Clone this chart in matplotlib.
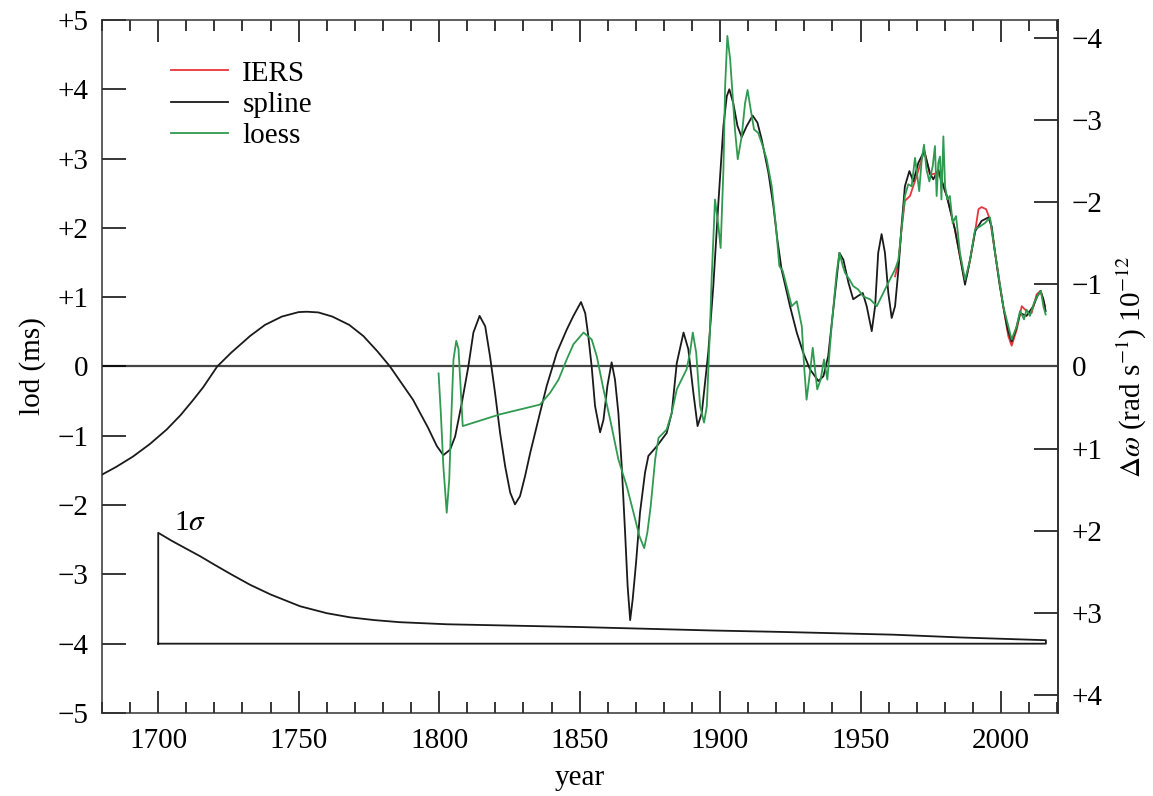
import matplotlib
matplotlib.use("Agg")
import matplotlib.pyplot as plt
from matplotlib.ticker import MultipleLocator, FixedLocator, FuncFormatter

plt.rcParams["font.family"] = ["Liberation Serif", "DejaVu Serif"]
plt.rcParams["mathtext.fontset"] = "stix"

# spline fit (black)
spline_year = [1680, 1685, 1691, 1697, 1703, 1708, 1712.5, 1716, 1721, 1726, 1732.7, 1738, 1744,
               1750, 1753, 1757, 1762, 1768, 1773, 1778, 1782.5,
               1786.1, 1790.7, 1796, 1799.2, 1801.5, 1803.9, 1805.7, 1808.1, 1810.4, 1812.2, 1814.4,
               1816.4, 1818.1, 1819.9, 1821.7, 1823.5, 1825.3, 1827.0, 1828.8, 1830.6, 1832.4,
               1835.9, 1838.3, 1841.9, 1845.4, 1847.8, 1850.5, 1852.0, 1853.1, 1854.3, 1855.5,
               1857.3, 1858.5, 1859.9, 1861.4, 1862.6, 1863.8, 1865.0, 1866.2, 1867.1, 1868.0,
               1868.9, 1870.1, 1871.5, 1873.3, 1874.5, 1877.5, 1881.0, 1882.8, 1884.6, 1887.0,
               1888.7, 1890.5, 1892.0, 1893.5, 1895.3,
               1895.8, 1897.6, 1899.4, 1901.2, 1902.4, 1903.3, 1904.7, 1906.2, 1907.7, 1909.5,
               1911.6, 1913.3, 1914.8, 1917.2, 1919.0, 1920.4, 1921.9, 1924.9, 1927.3, 1929.6,
               1932.0, 1935.0, 1936.8, 1938.5, 1940.3, 1942.5, 1943.9, 1945.7, 1947.4, 1949.2,
               1950.8, 1952.2, 1954.0, 1955.2, 1956.3, 1957.5, 1958.7,
               1959.9, 1961.1, 1962.3, 1963.5, 1964.6, 1965.8, 1967.4, 1968.8, 1970.6, 1972.7,
               1974.7, 1975.9, 1977.7, 1980.7, 1983.6, 1985.4, 1987.2, 1989.0, 1990.8, 1993.1,
               1995.5, 1996.7, 1997.9, 1999.4, 2000.8, 2002.4, 2003.8, 2005.3, 2006.8, 2009.1,
               2011.5, 2012.9, 2014.1, 2015.1, 2015.9]
spline_lod = [-1.56, -1.45, -1.30, -1.12, -0.91, -0.70, -0.48, -0.30, 0.0, 0.20, 0.44, 0.60, 0.72,
              0.785, 0.79, 0.78, 0.72, 0.60, 0.44, 0.22, 0.0,
              -0.21, -0.48, -0.88, -1.15, -1.28, -1.20, -1.01, -0.52, 0.0, 0.49, 0.73,
              0.58, 0.15, -0.38, -0.96, -1.44, -1.82, -1.99, -1.87, -1.58, -1.25,
              -0.67, -0.28, 0.20, 0.53, 0.73, 0.93, 0.77, 0.44, 0.0, -0.57,
              -0.95, -0.77, -0.28, 0.06, -0.19, -0.67, -1.44, -2.40, -3.17, -3.66,
              -3.36, -2.83, -2.11, -1.53, -1.29, -1.15, -0.96, -0.67, 0.05, 0.49,
              0.25, -0.38, -0.86, -0.67, 0.0,
              0.20, 1.16, 2.36, 3.47, 3.90, 4.00, 3.80, 3.47, 3.31, 3.47,
              3.62, 3.52, 3.28, 2.80, 2.31, 1.83, 1.40, 0.87, 0.49, 0.20,
              -0.04, -0.21, -0.14, 0.15, 0.82, 1.64, 1.54, 1.21, 0.97, 1.02,
              1.06, 0.87, 0.51, 0.87, 1.64, 1.91, 1.64,
              1.06, 0.70, 0.87, 1.40, 2.02, 2.60, 2.82, 2.67, 2.94, 3.11,
              2.79, 2.70, 2.84, 2.46, 1.98, 1.59, 1.18, 1.54, 1.95, 2.10,
              2.15, 2.02, 1.64, 1.21, 0.87, 0.53, 0.36, 0.53, 0.77, 0.73,
              0.87, 1.01, 1.09, 0.97, 0.80]

# loess fit (green)
loess_year = [1799.8, 1800.6, 1801.5, 1802.7, 1803.6, 1804.3, 1805.1, 1806.1, 1806.9, 1807.5, 1808.4,
              1821.7, 1835.9, 1839.5, 1842.5, 1845.4, 1847.8, 1851.4, 1854.3, 1856.1, 1858.5,
              1860.9, 1863.8, 1866.8, 1869.2, 1871.3, 1873.0, 1874.1, 1875.3, 1876.9, 1878.1,
              1881.0, 1882.8, 1884.6, 1888.1, 1889.3, 1890.3, 1891.5, 1892.9, 1894.3, 1895.3,
              1896.4, 1897.0, 1898.2, 1899.4, 1900.2, 1901.2, 1901.8, 1902.6, 1903.6, 1904.5,
              1905.3, 1906.3, 1907.7, 1908.9, 1909.8, 1910.9, 1912.1, 1913.6, 1915.2, 1916.6,
              1918.4, 1919.9, 1921.1, 1922.3, 1923.7, 1925.5, 1927.3, 1929.1, 1930.0, 1930.8,
              1932.0, 1933.0, 1933.8, 1934.6, 1935.8, 1937.0, 1938.2, 1939.7, 1941.5, 1942.5,
              1943.7, 1944.5, 1946.0, 1947.4, 1949.2, 1951.0, 1953.4, 1955.8, 1958.1,
              1959.9, 1962.3, 1963.5, 1964.6, 1965.8, 1967.0, 1968.2, 1969.4, 1970.2, 1970.9,
              1971.8, 1972.6, 1973.5, 1974.5, 1975.7, 1976.5, 1977.1, 1977.7, 1978.3, 1978.8,
              1979.5, 1980.1, 1980.9, 1981.8, 1982.8, 1984.0, 1985.4, 1987.2, 1989.0, 1990.8,
              1992.5, 1994.3, 1996.1, 1997.9, 2000.8, 2003.8, 2005.6, 2006.8, 2008.2, 2009.1,
              2010.3, 2011.8, 2013.3, 2014.2, 2015.1, 2015.9]
loess_lod = [-0.10, -0.67, -1.44, -2.11, -1.63, -0.77, 0.10, 0.37, 0.25, -0.19, -0.86,
             -0.69, -0.55, -0.38, -0.19, 0.10, 0.32, 0.49, 0.39, 0.15, -0.33,
             -0.77, -1.34, -1.73, -2.11, -2.45, -2.62, -2.40, -2.02, -1.34, -1.03,
             -0.91, -0.67, -0.33, -0.04, 0.20, 0.49, 0.20, -0.57, -0.81, -0.57,
             0.53, 1.26, 2.41, 2.03, 1.71, 2.84, 4.04, 4.77, 4.43, 3.90,
             3.42, 2.99, 3.32, 3.80, 3.99, 3.71, 3.42, 3.37, 3.18, 2.99,
             2.60, 2.02, 1.45, 1.38, 1.16, 0.87, 0.94, 0.58, -0.04, -0.48,
             -0.09, 0.27, -0.04, -0.33, -0.19, 0.10, -0.19, 0.58, 1.35, 1.64,
             1.45, 1.35, 1.26, 1.16, 1.11, 1.01, 0.97, 0.87, 1.06,
             1.21, 1.40, 1.54, 1.98, 2.46, 2.63, 2.60, 3.01, 2.75, 2.53,
             2.99, 3.20, 2.84, 2.67, 2.89, 3.18, 2.46, 2.94, 3.03, 2.41,
             3.32, 2.60, 2.41, 2.46, 2.07, 2.17, 1.64, 1.25, 1.54, 1.98,
             2.02, 2.07, 2.15, 1.64, 0.87, 0.39, 0.58, 0.80, 0.68, 0.82,
             0.73, 0.92, 1.04, 1.09, 0.87, 0.75]

# IERS series (red)
iers_year = [1962.3, 1963.5, 1964.6, 1965.8, 1967.6, 1970.0, 1972.7, 1974.7, 1977.7, 1980.7, 1983.6,
             1985.4, 1986.8, 1987.8, 1989.0, 1990.8, 1992.0, 1993.1, 1994.7, 1996.1, 1997.9,
             2000.8, 2002.6, 2003.8, 2005.6, 2007.4, 2009.1, 2010.9, 2012.7, 2014.1, 2015.7]
iers_lod = [1.30, 1.50, 1.98, 2.39, 2.46, 2.75, 3.11, 2.77, 2.79, 2.46, 1.98,
            1.59, 1.30, 1.30, 1.54, 1.95, 2.27, 2.30, 2.27, 2.12, 1.64,
            0.87, 0.44, 0.30, 0.53, 0.87, 0.80, 0.77, 1.04, 1.09, 0.87]

# 1 sigma envelope, drawn on a base line at -4 ms
sigma_year = [1700, 1705, 1710, 1715, 1720, 1726, 1732.7, 1740, 1750.5, 1760, 1768.3, 1777, 1786,
              1802.8, 1850.2, 1897.5, 1921.4, 1961.6, 1985.4, 2016]
sigma_lod = [-2.40, -2.52, -2.63, -2.74, -2.86, -3.00, -3.15, -3.29, -3.46, -3.56, -3.62, -3.66,
             -3.69, -3.72, -3.76, -3.81, -3.83, -3.87, -3.91, -3.95]
sigma_base = -4

# lod (ms) -> delta omega (1e-12 rad/s)
K = 0.844
omega_ticks = [-4, -3, -2, -1, 0, 1, 2, 3, 4]
lod_ticks = [-5, -4, -3, -2, -1, 0, 1, 2, 3, 4, 5]


def signed(v, p=None):
    v = int(round(v))
    if v == 0:
        return "0"
    return "+%d" % v if v > 0 else "\u2212%d" % -v


fig = plt.figure(figsize=(11.53, 7.96), dpi=100)
ax = fig.add_axes([0.0885, 0.1043, 0.8291, 0.8706])

ax.axhline(0, color="#444444", lw=1.6, zorder=1)
ax.plot(iers_year, iers_lod, color="#e8343c", lw=1.3, label="IERS", zorder=2)
ax.plot(spline_year, spline_lod, color="#1a1a1a", lw=1.3, label="spline", zorder=3)
ax.plot(loess_year, loess_lod, color="#2f9a50", lw=1.3, label="loess", zorder=4)

sx = [sigma_year[0]] + sigma_year + [sigma_year[-1], sigma_year[0]]
sy = [sigma_base] + sigma_lod + [sigma_base, sigma_base]
ax.plot(sx, sy, color="#1a1a1a", lw=1.3)
ax.text(1705.5, -2.26, r"1$\sigma$", fontsize=21, va="center", ha="left")

ax.set_xlim(1680, 2020.3)
ax.set_ylim(-5, 5)
ax.xaxis.set_major_locator(MultipleLocator(50))
ax.xaxis.set_minor_locator(MultipleLocator(10))
ax.yaxis.set_major_locator(FixedLocator(lod_ticks))
ax.yaxis.set_major_formatter(FuncFormatter(signed))
ax.tick_params(axis="x", which="major", direction="in", length=16, width=1.1,
               top=True, labelsize=21, pad=11)
ax.tick_params(axis="x", which="minor", direction="in", length=8, width=1.1, top=True)
ax.tick_params(axis="y", which="major", direction="in", length=17, width=1.1,
               right=False, labelsize=21, pad=10)
for s in ax.spines.values():
    s.set_linewidth(1.1)
    s.set_color("#333333")

ax2 = ax.secondary_yaxis("right", functions=(lambda v: -K * v, lambda v: -v / K))
ax2.yaxis.set_major_locator(FixedLocator(omega_ticks))
ax2.yaxis.set_major_formatter(FuncFormatter(signed))
ax2.tick_params(direction="in", length=17, width=1.1, labelsize=21, pad=10)
ax2.spines["right"].set_linewidth(1.1)
ax2.set_ylabel(r"$\Delta\omega$ (rad s$^{-1}$) 10$^{-12}$", fontsize=21, labelpad=9)

ax.set_ylabel("lod (ms)", fontsize=21, labelpad=8)
ax.set_xlabel("year", fontsize=21, labelpad=8)

ax.legend(loc="upper left", bbox_to_anchor=(0.072, 0.942), frameon=False, fontsize=21,
          handlelength=1.95, handletextpad=0.5, labelspacing=0.17, borderpad=0, borderaxespad=0)

fig.savefig("out.png", dpi=100)
